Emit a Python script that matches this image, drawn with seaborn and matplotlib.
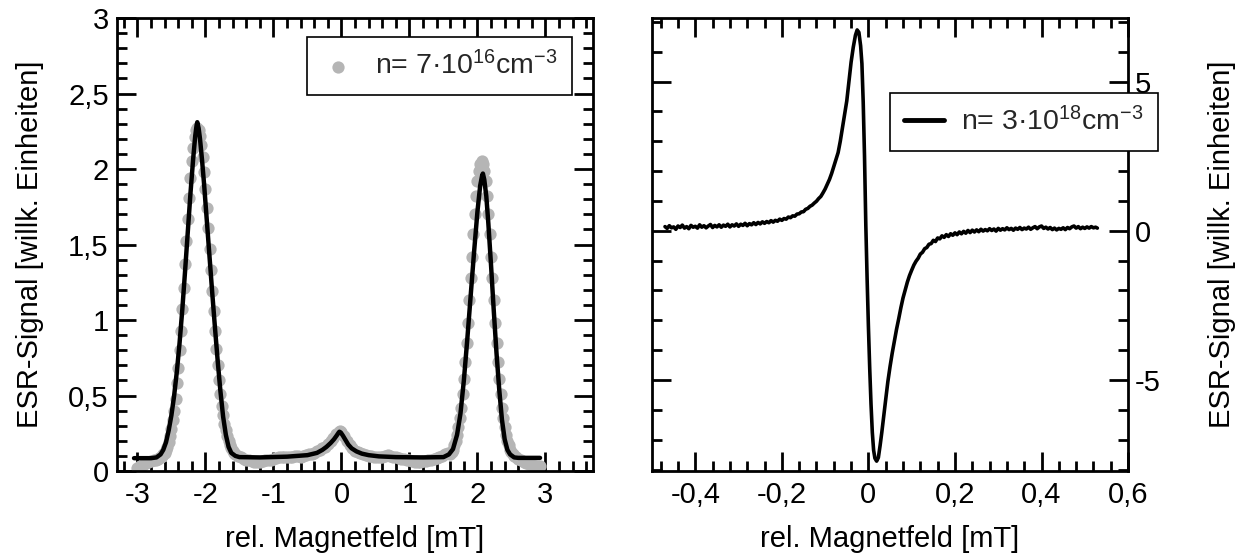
import matplotlib
matplotlib.use("Agg")
import numpy as np
import pandas as pd
import seaborn as sns
import matplotlib.pyplot as plt
from matplotlib.ticker import MultipleLocator, FuncFormatter

# ---------------- data: left panel (n = 7e16) ----------------
dots_field = [
    -3.00, -2.96, -2.92, -2.88, -2.84, -2.80, -2.76, -2.72,
    -2.70, -2.68, -2.66, -2.64, -2.62, -2.60, -2.58, -2.56, -2.54, -2.52,
    -2.50, -2.48, -2.46, -2.44, -2.42, -2.40, -2.38, -2.36, -2.34, -2.32,
    -2.30, -2.28, -2.26, -2.24, -2.22, -2.20, -2.18, -2.16, -2.14, -2.12,
    -2.10, -2.08, -2.06, -2.04, -2.02, -2.00, -1.98, -1.96, -1.94, -1.92,
    -1.90, -1.88, -1.86, -1.84, -1.82, -1.80, -1.78, -1.76, -1.74, -1.72,
    -1.70, -1.68, -1.66, -1.64, -1.62, -1.60, -1.58, -1.56, -1.52, -1.48,
    -1.44, -1.40, -1.36, -1.32, -1.28, -1.24, -1.20, -1.16, -1.12, -1.08,
    -1.04, -1.00, -0.96, -0.92, -0.88, -0.84, -0.80, -0.76, -0.72, -0.68,
    -0.64, -0.60, -0.56, -0.52, -0.48, -0.44, -0.40, -0.36, -0.32,
    -0.28, -0.24, -0.20, -0.16, -0.12, -0.08, -0.04, -0.02, 0.00, 0.04,
    0.08, 0.12, 0.16, 0.20, 0.24, 0.28, 0.32, 0.36, 0.40, 0.44, 0.48,
    0.52, 0.56, 0.60, 0.64, 0.68, 0.72, 0.76, 0.80, 0.84, 0.88, 0.92,
    0.96, 1.00, 1.04, 1.08, 1.12, 1.16, 1.20, 1.24, 1.28, 1.32, 1.36,
    1.40, 1.44, 1.48, 1.52, 1.56,
    1.60, 1.62, 1.64, 1.66, 1.68, 1.70, 1.72, 1.74, 1.76, 1.78, 1.80,
    1.82, 1.84, 1.86, 1.88, 1.90, 1.92, 1.94, 1.96, 1.98, 2.00, 2.02,
    2.04, 2.06, 2.08, 2.10, 2.12, 2.14, 2.16, 2.18, 2.20, 2.22, 2.24,
    2.26, 2.28, 2.30, 2.32, 2.34, 2.36, 2.38, 2.40, 2.42, 2.44, 2.46,
    2.48, 2.50, 2.52, 2.54, 2.56,
    2.60, 2.64, 2.68, 2.72, 2.76, 2.80, 2.84, 2.88, 2.92,
]
dots_signal = [
    0.02, 0.03, 0.04, 0.05, 0.06, 0.065, 0.07, 0.075,
    0.08, 0.085, 0.09, 0.10, 0.11, 0.12, 0.14, 0.16, 0.19, 0.23,
    0.28, 0.34, 0.40, 0.48, 0.58, 0.68, 0.80, 0.93, 1.07, 1.21,
    1.37, 1.52, 1.67, 1.81, 1.94, 2.05, 2.14, 2.21, 2.26, 2.27,
    2.26, 2.22, 2.16, 2.08, 1.98, 1.87, 1.74, 1.61, 1.47, 1.33,
    1.19, 1.06, 0.93, 0.81, 0.70, 0.60, 0.51, 0.43, 0.37, 0.31,
    0.27, 0.23, 0.20, 0.17, 0.15, 0.13, 0.12, 0.11, 0.10, 0.09,
    0.08, 0.075, 0.07, 0.065, 0.06, 0.06, 0.06, 0.065, 0.07, 0.07,
    0.075, 0.08, 0.085, 0.09, 0.095, 0.095, 0.09, 0.09, 0.095, 0.10,
    0.10, 0.095, 0.10, 0.105, 0.11, 0.11, 0.12, 0.13, 0.14,
    0.15, 0.16, 0.18, 0.20, 0.22, 0.245, 0.26, 0.265, 0.26, 0.235,
    0.20, 0.175, 0.15, 0.135, 0.125, 0.12, 0.11, 0.105, 0.10, 0.10, 0.095,
    0.09, 0.09, 0.095, 0.10, 0.105, 0.10, 0.095, 0.09, 0.085, 0.08, 0.08,
    0.075, 0.07, 0.065, 0.06, 0.06, 0.06, 0.065, 0.065, 0.07, 0.075, 0.08,
    0.085, 0.09, 0.10, 0.11, 0.12,
    0.11, 0.125, 0.14, 0.17, 0.20, 0.24, 0.29, 0.35, 0.42, 0.51, 0.61,
    0.72, 0.85, 0.98, 1.13, 1.28, 1.42, 1.57, 1.70, 1.82, 1.92, 1.99,
    2.03, 2.05, 2.03, 1.99, 1.92, 1.82, 1.70, 1.57, 1.42, 1.28, 1.13,
    0.98, 0.85, 0.72, 0.61, 0.51, 0.42, 0.35, 0.29, 0.24, 0.20, 0.17,
    0.14, 0.125, 0.11, 0.10, 0.09,
    0.08, 0.07, 0.06, 0.05, 0.045, 0.04, 0.035, 0.03, 0.03,
]

fit_field = [
    -3.05, -2.80, -2.72, -2.66, -2.62, -2.58, -2.54, -2.50, -2.46, -2.42,
    -2.38, -2.34, -2.30, -2.26, -2.22, -2.18, -2.15, -2.13, -2.12, -2.10,
    -2.08, -2.05, -2.02, -1.98, -1.94, -1.90, -1.86, -1.82, -1.78, -1.74,
    -1.70, -1.66, -1.62, -1.56, -1.50, -1.20, -0.80, -0.50, -0.36, -0.28,
    -0.22, -0.16, -0.11, -0.07, -0.04, -0.03, -0.01, 0.02, 0.06, 0.10,
    0.15, 0.22, 0.30, 0.40, 0.55, 0.80, 1.20, 1.50, 1.58, 1.64,
    1.70, 1.75, 1.80, 1.85, 1.90, 1.95, 2.00, 2.04, 2.07, 2.08,
    2.10, 2.13, 2.16, 2.20, 2.24, 2.28, 2.32, 2.36, 2.40, 2.44,
    2.48, 2.54, 2.60, 2.92,
]
fit_signal = [
    0.085, 0.085, 0.09, 0.11, 0.14, 0.19, 0.27, 0.37, 0.50, 0.66,
    0.85, 1.07, 1.32, 1.58, 1.84, 2.07, 2.22, 2.29, 2.31, 2.27,
    2.20, 2.06, 1.90, 1.66, 1.42, 1.18, 0.95, 0.73, 0.53, 0.36,
    0.24, 0.16, 0.12, 0.10, 0.092, 0.09, 0.095, 0.105, 0.12, 0.14,
    0.16, 0.185, 0.21, 0.235, 0.255, 0.26, 0.255, 0.235, 0.205, 0.175,
    0.15, 0.13, 0.115, 0.105, 0.097, 0.092, 0.09, 0.092, 0.11, 0.145,
    0.24, 0.38, 0.60, 0.87, 1.16, 1.45, 1.72, 1.89, 1.96, 1.97,
    1.93, 1.82, 1.64, 1.36, 1.06, 0.78, 0.54, 0.34, 0.21, 0.14,
    0.11, 0.09, 0.087, 0.087,
]

# ---------------- data: right panel (n = 3e18) ----------------
esr_field = [
    -0.470, -0.465, -0.460, -0.455, -0.450, -0.445, -0.440, -0.435, -0.430, -0.425,
    -0.420, -0.415, -0.410, -0.405, -0.400, -0.395, -0.390, -0.385, -0.380, -0.375,
    -0.370, -0.365, -0.360, -0.355, -0.350, -0.345, -0.340, -0.335, -0.330, -0.325,
    -0.320, -0.315, -0.310, -0.305, -0.300, -0.295, -0.290, -0.285, -0.280, -0.275,
    -0.270, -0.265, -0.260, -0.255, -0.250, -0.245, -0.240, -0.235, -0.230, -0.225,
    -0.220, -0.215, -0.210, -0.205, -0.200, -0.195, -0.190, -0.185, -0.180, -0.175,
    -0.170, -0.165, -0.160, -0.155, -0.150, -0.145, -0.140, -0.135, -0.130, -0.125,
    -0.120, -0.115, -0.110, -0.105, -0.100, -0.095, -0.090, -0.085, -0.080, -0.075,
    -0.070, -0.065, -0.060, -0.055, -0.050, -0.045, -0.040, -0.035, -0.030, -0.026,
    -0.022, -0.018, -0.015, -0.012, -0.009, -0.006, -0.003, 0.000, 0.003, 0.006,
    0.009, 0.012, 0.015, 0.019, 0.023, 0.027, 0.031, 0.035, 0.040, 0.045,
    0.050, 0.055, 0.060, 0.065, 0.070, 0.075, 0.080, 0.085, 0.090, 0.095,
    0.100, 0.105, 0.110, 0.115, 0.120, 0.125, 0.130, 0.135, 0.140, 0.145,
    0.150, 0.155, 0.160, 0.165, 0.170, 0.175, 0.180, 0.185, 0.190, 0.195,
    0.200, 0.205, 0.210, 0.215, 0.220, 0.225, 0.230, 0.235, 0.240, 0.245,
    0.250, 0.255, 0.260, 0.265, 0.270, 0.275, 0.280, 0.285, 0.290, 0.295,
    0.300, 0.305, 0.310, 0.315, 0.320, 0.325, 0.330, 0.335, 0.340, 0.345,
    0.350, 0.355, 0.360, 0.365, 0.370, 0.375, 0.380, 0.385, 0.390, 0.395,
    0.400, 0.405, 0.410, 0.415, 0.420, 0.425, 0.430, 0.435, 0.440, 0.445,
    0.450, 0.455, 0.460, 0.465, 0.470, 0.475, 0.480, 0.485, 0.490, 0.495,
    0.500, 0.505, 0.510, 0.515, 0.520, 0.525, 0.529,
]
esr_signal = [
    0.14, 0.08, 0.17, 0.10, 0.13, 0.05, 0.16, 0.11, 0.19, 0.09,
    0.14, 0.07, 0.18, 0.12, 0.15, 0.09, 0.20, 0.12, 0.17, 0.10,
    0.16, 0.21, 0.11, 0.18, 0.13, 0.20, 0.12, 0.19, 0.15, 0.22,
    0.13, 0.20, 0.16, 0.23, 0.15, 0.22, 0.18, 0.25, 0.17, 0.24,
    0.20, 0.27, 0.21, 0.28, 0.23, 0.30, 0.25, 0.31, 0.27, 0.34,
    0.29, 0.35, 0.32, 0.39, 0.35, 0.41, 0.39, 0.46, 0.44, 0.50,
    0.49, 0.56, 0.57, 0.63, 0.64, 0.72, 0.75, 0.82, 0.86, 0.93,
    0.99, 1.08, 1.15, 1.27, 1.40, 1.56, 1.72, 1.92, 2.15, 2.37,
    2.62, 3.00, 3.45, 3.90, 4.35, 5.00, 5.65, 6.15, 6.55, 6.73,
    6.65, 6.20, 5.60, 4.30, 2.50, 0.20, -1.60, -3.20, -4.60, -5.80,
    -6.75, -7.35, -7.62, -7.72, -7.60, -7.20, -6.75, -6.25, -5.65, -5.05,
    -4.55, -4.10, -3.70, -3.30, -2.95, -2.58, -2.25, -1.98, -1.72, -1.50,
    -1.32, -1.15, -1.02, -0.92, -0.78, -0.72, -0.60, -0.56, -0.45, -0.43,
    -0.32, -0.36, -0.24, -0.27, -0.17, -0.22, -0.13, -0.19, -0.10, -0.15,
    -0.07, -0.13, -0.04, -0.10, -0.02, -0.08, 0.01, -0.06, 0.02, -0.04,
    0.03, -0.03, 0.05, -0.01, 0.04, 0.00, 0.07, 0.01, 0.06, -0.01,
    0.08, 0.02, 0.07, 0.03, 0.10, 0.04, 0.08, 0.02, 0.09, 0.05,
    0.11, 0.04, 0.09, 0.06, 0.12, 0.05, 0.10, 0.14, 0.07, 0.13,
    0.16, 0.08, 0.12, 0.06, 0.11, 0.04, 0.09, 0.03, 0.08, 0.05,
    0.10, 0.04, 0.11, 0.07, 0.13, 0.16, 0.09, 0.14, 0.07, 0.12,
    0.08, 0.13, 0.09, 0.14, 0.10, 0.12, 0.09,
]

left_label = "n= 7·10$^{16}$cm$^{-3}$"
right_label = "n= 3·10$^{18}$cm$^{-3}$"
x_label = "rel. Magnetfeld [mT]"
y_label = "ESR-Signal [willk. Einheiten]"

# ---------------- style ----------------
sns.set_theme(style="ticks")
plt.rcParams["font.family"] = ["Liberation Sans", "DejaVu Sans"]
plt.rcParams["mathtext.default"] = "regular"
plt.rcParams["axes.unicode_minus"] = False
FS = 21
LFS = 20.5


def comma(v, pos):
    if abs(v) < 1e-9:
        return "0"
    return ("%g" % round(v, 6)).replace(".", ",")


def style_axes(ax):
    for sp in ax.spines.values():
        sp.set_linewidth(2.0)
        sp.set_color("black")
    ax.tick_params(which="both", direction="in", top=True, right=True,
                   width=2.0, color="black", labelsize=FS, labelcolor="black")
    ax.tick_params(which="major", length=14)
    ax.tick_params(which="minor", length=7)
    ax.xaxis.set_major_formatter(FuncFormatter(comma))
    ax.yaxis.set_major_formatter(FuncFormatter(comma))


fig = plt.figure(figsize=(12.41, 5.58), dpi=100)
ax1 = fig.add_axes([0.0943, 0.1559, 0.3836, 0.8118])
ax2 = fig.add_axes([0.5254, 0.1559, 0.3836, 0.8118])

# left panel
df_dots = pd.DataFrame({"B": dots_field, "S": dots_signal})
df_fit = pd.DataFrame({"B": fit_field, "S": fit_signal})
sns.scatterplot(data=df_dots, x="B", y="S", ax=ax1, color="#b5b5b5",
                s=78, linewidth=0, label=left_label, zorder=2)
sns.lineplot(data=df_fit, x="B", y="S", ax=ax1, color="black", lw=3.2,
             sort=False, estimator=None, zorder=3)
ax1.set_xlim(-3.3, 3.7)
ax1.set_ylim(0, 3)
ax1.xaxis.set_major_locator(MultipleLocator(1))
ax1.xaxis.set_minor_locator(MultipleLocator(0.2))
ax1.yaxis.set_major_locator(MultipleLocator(0.5))
ax1.yaxis.set_minor_locator(MultipleLocator(0.1))
style_axes(ax1)
ax1.tick_params(axis="x", pad=7)
ax1.tick_params(axis="y", pad=6)
ax1.set_xlabel(x_label, fontsize=FS, color="black", labelpad=12)
ax1.set_ylabel(y_label, fontsize=FS, color="black", labelpad=17)
leg1 = ax1.legend(loc="upper left", bbox_to_anchor=(0.2474, 0.9337),
                  bbox_transform=fig.transFigure, fontsize=LFS, frameon=True,
                  fancybox=False, framealpha=1, edgecolor="black",
                  handlelength=1.2, handletextpad=0.7, borderpad=0.5,
                  borderaxespad=0, markerscale=1.0)
leg1.get_frame().set_linewidth(1.2)

# right panel
df_esr = pd.DataFrame({"B": esr_field, "S": esr_signal})
sns.lineplot(data=df_esr, x="B", y="S", ax=ax2, color="black", lw=2.6,
             sort=False, estimator=None, label=right_label)
ax2.set_xlim(-0.5, 0.6)
ax2.set_ylim(-8.05, 7.13)
ax2.xaxis.set_major_locator(MultipleLocator(0.2))
ax2.xaxis.set_minor_locator(MultipleLocator(0.04))
ax2.yaxis.set_major_locator(MultipleLocator(5))
ax2.yaxis.set_minor_locator(MultipleLocator(1))
style_axes(ax2)
ax2.tick_params(axis="y", which="both", left=True, right=True,
                labelleft=False, labelright=True, pad=5)
ax2.tick_params(axis="x", pad=7)
ax2.yaxis.set_label_position("right")
ax2.set_xlabel(x_label, fontsize=FS, color="black", labelpad=12)
ax2.set_ylabel(y_label, fontsize=FS, color="black", labelpad=34)
leg2 = ax2.legend(loc="upper left", bbox_to_anchor=(0.7172, 0.8333),
                  bbox_transform=fig.transFigure, fontsize=LFS, frameon=True,
                  fancybox=False, framealpha=1, edgecolor="black",
                  handlelength=1.4, handletextpad=0.6, borderpad=0.5,
                  borderaxespad=0)
leg2.get_frame().set_linewidth(1.2)
for line in leg2.get_lines():
    line.set_linewidth(3.5)

fig.savefig("out.png", dpi=100, facecolor="white")
